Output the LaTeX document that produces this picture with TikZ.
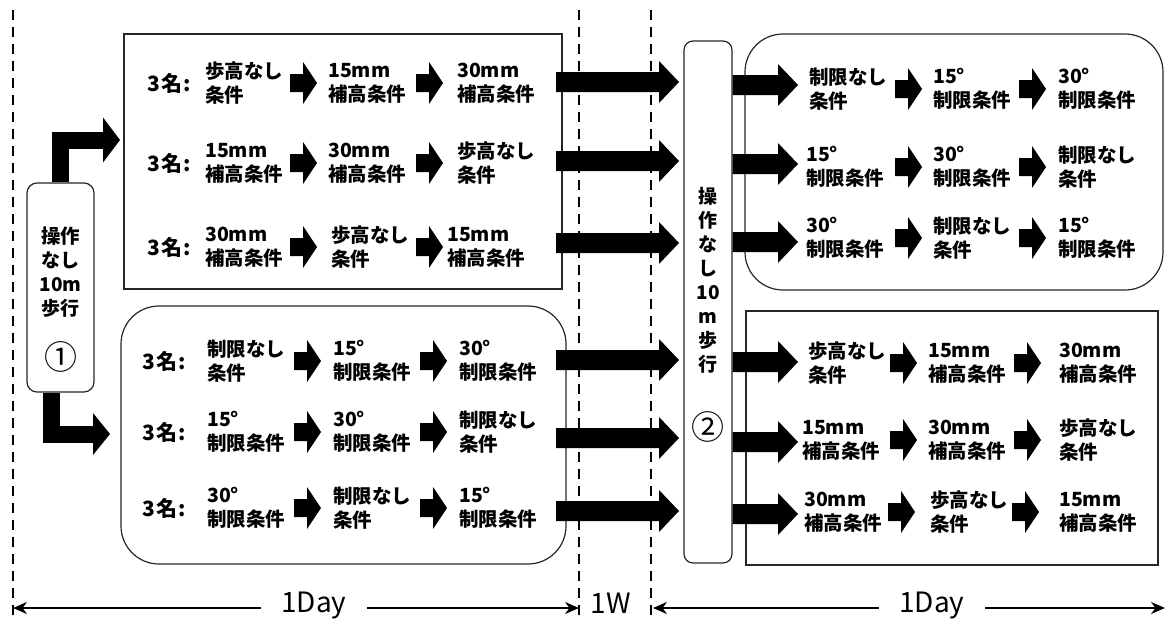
\documentclass[tikz,border=0pt]{standalone}
\usepackage{fontspec}
\newfontfamily\jp{Noto Sans CJK JP}
\usetikzlibrary{calc,arrows.meta}
\tikzset{
  lab/.style={font=\jp\bfseries\fontsize{19.5}{24}\selectfont, align=left, anchor=west, inner sep=0pt},
  nm/.style={font=\jp\bfseries\fontsize{21}{24}\selectfont, anchor=west, inner sep=0pt},
  vtext/.style={font=\jp\bfseries\fontsize{19}{24}\selectfont, align=center, inner sep=0pt},
  circ/.style={font=\jp\fontsize{33}{36}\selectfont, inner sep=0pt},
  boxline/.style={draw=black!85, line width=1.2pt},
  dashline/.style={line width=1.6pt, dash pattern=on 10pt off 7pt},
  dim/.style={font=\jp\fontsize{28}{30}\selectfont, inner ysep=0pt},
  dimline/.style={line width=1.8pt, -{Stealth[length=14pt,width=12pt]}},
  bent/.style={line width=17pt, line join=miter},
}
% horizontal block arrow between two named coordinates
% #1 start, #2 tip, #3 shaft half width, #4 head half width, #5 head length
\newcommand\blockarrow[5]{%
  \fill[black] ($(#1)+(0,#3)$) -- ($(#2)+(-#5,#3)$) -- ($(#2)+(-#5,#4)$) -- (#2)
    -- ($(#2)+(-#5,-#4)$) -- ($(#2)+(-#5,-#3)$) -- ($(#1)+(0,-#3)$) -- cycle;}
% a row of three conditions: #1 name, #2 y, #3..#5 texts
\newcommand\condrow[5]{%
  \node[lab] (#1a) at (\xLa,#2) {#3};
  \node[lab] (#1b) at (\xLb,#2) {#4};
  \node[lab] (#1c) at (\xLc,#2) {#5};
  \coordinate (#1s1) at (\xAa,#2); \coordinate (#1e1) at ({\xAa+27},#2);
  \coordinate (#1s2) at (\xAb,#2); \coordinate (#1e2) at ({\xAb+27},#2);
  \blockarrow{#1s1}{#1e1}{9}{21}{14}
  \blockarrow{#1s2}{#1e2}{9}{21}{14}}
\newcommand\grouprow[5]{%
  \node[nm] (#1n) at (\xN,#2) {3\kern2pt 名\kern1pt :};
  \condrow{#1}{#2}{#3}{#4}{#5}}
\begin{document}
\begin{tikzpicture}[x=1pt,y=-1pt]
\useasboundingbox (0,0) rectangle (1165,621);
% dashed separators
\coordinate (v1t) at (13,10);  \coordinate (v1b) at (13,621);
\coordinate (v2t) at (579,10); \coordinate (v2b) at (579,621);
\coordinate (v3t) at (651,10); \coordinate (v3b) at (651,621);
\draw[dashline] (v1t) -- (v1b);
\draw[dashline] (v2t) -- (v2b);
\draw[dashline] (v3t) -- (v3b);
% boxes
\node[boxline, rounded corners=10pt, minimum width=67pt, minimum height=209pt] (box1) at (60.5,287.5) {};
\node[boxline, minimum width=438pt, minimum height=255pt] (boxA) at (343,161.5) {};
\node[boxline, rounded corners=38pt, minimum width=445pt, minimum height=258pt] (boxB) at (343.5,435) {};
\node[boxline, rounded corners=9pt, minimum width=48pt, minimum height=522pt] (box2) at (708,302) {};
\node[boxline, rounded corners=38pt, minimum width=418pt, minimum height=256pt] (boxC) at (954,162) {};
\node[boxline, minimum width=412pt, minimum height=254pt] (boxD) at (952,438) {};
% box texts
\node[vtext] (t1) at (60.5,272) {\fontsize{19.5}{23.6}\selectfont 操作\\なし\\10m\\歩行};
\node[circ] (c1) at (60.5,357) {①};
\node[vtext] (t2) at (708,280) {操\\作\\な\\し\\10\\m\\歩\\行};
\node[circ] (c2) at (708,427) {②};
% bent arrows out of box 1
\coordinate (ub) at (103,140); \coordinate (ut) at (120,140);
\draw[bent] (box1.north) |- (ub);
\fill[black] ($(ub)+(0,-22.5)$) -- (ut) -- ($(ub)+(0,22.5)$) -- cycle;
\coordinate (ds) at ($(box1.south)+(-9,0)$);
\coordinate (db) at (93,434); \coordinate (dt) at (110,434);
\draw[bent] (ds) |- (db);
\fill[black] ($(db)+(0,-21)$) -- (dt) -- ($(db)+(0,21)$) -- cycle;
% top-left group
\def\xN{147}\def\xLa{205}\def\xAa{290}\def\xLb{328}\def\xAb{416}\def\xLc{457}
\grouprow{ra1}{83}{歩高なし\\条件}{15mm\\補高条件}{30mm\\補高条件}
\grouprow{ra2}{163}{15mm\\補高条件}{30mm\\補高条件}{歩高なし\\条件}
\def\xLb{331}\def\xLc{447}
\grouprow{ra3}{247}{30mm\\補高条件}{歩高なし\\条件}{15mm\\補高条件}
% lower-left group
\def\xN{142}\def\xLa{207}\def\xAa{294}\def\xLb{333}\def\xAb{420}\def\xLc{459}
\grouprow{rb1}{361}{制限なし\\条件}{15°\\制限条件}{30°\\制限条件}
\grouprow{rb2}{432}{15°\\制限条件}{30°\\制限条件}{制限なし\\条件}
\grouprow{rb3}{508}{30°\\制限条件}{制限なし\\条件}{15°\\制限条件}
% right-top group
\def\xLa{809}\def\xAa{895}\def\xLb{933}\def\xAb{1019}\def\xLc{1058}
\condrow{rc1}{89}{制限なし\\条件}{15°\\制限条件}{30°\\制限条件}
\def\xLa{806}
\condrow{rc2}{167}{15°\\制限条件}{30°\\制限条件}{制限なし\\条件}
\condrow{rc3}{238}{30°\\制限条件}{制限なし\\条件}{15°\\制限条件}
% right-lower group
\def\xLa{808}\def\xAa{890}\def\xLb{928}\def\xAb{1014}\def\xLc{1059}
\condrow{rd1}{363}{歩高なし\\条件}{15mm\\補高条件}{30mm\\補高条件}
\def\xLa{802}
\condrow{rd2}{440}{15mm\\補高条件}{30mm\\補高条件}{歩高なし\\条件}
\def\xLa{804}\def\xAa{888}\def\xLb{930}\def\xAb{1012}
\condrow{rd3}{512}{30mm\\補高条件}{歩高なし\\条件}{15mm\\補高条件}
% big arrows from left groups to box 2
\foreach \n/\y in {1/82,2/161,3/243,4/360,5/438,6/511}{
  \coordinate (L\n s) at (556,\y); \coordinate (L\n e) at (679,\y);
  \blockarrow{L\n s}{L\n e}{10}{21}{20}
}
% big arrows from box 2 to right groups
\foreach \n/\y in {1/85,2/164,3/242,4/362,5/442,6/514}{
  \coordinate (R\n s) at (box2.east |- 0,\y); \coordinate (R\n e) at (798,\y);
  \blockarrow{R\n s}{R\n e}{10}{21}{20}
}
% time spans
\node[dim, inner xsep=20pt] (day1) at (314,606) {1Day};
\coordinate (d1l) at (13,608); \coordinate (d1r) at (579,608);
\draw[dimline] (day1.west |- d1l) -- (d1l);
\draw[dimline] (day1.east |- d1r) -- (d1r);
\node[dim, inner xsep=0pt] (wk) at (611,603) {1W};
\node[dim, inner xsep=20pt] (day2) at (932,606) {1Day};
\coordinate (d2l) at (653,608); \coordinate (d2r) at (1165,608);
\draw[dimline] (day2.west |- d2l) -- (d2l);
\draw[dimline] (day2.east |- d2r) -- (d2r);
\end{tikzpicture}
\end{document}
